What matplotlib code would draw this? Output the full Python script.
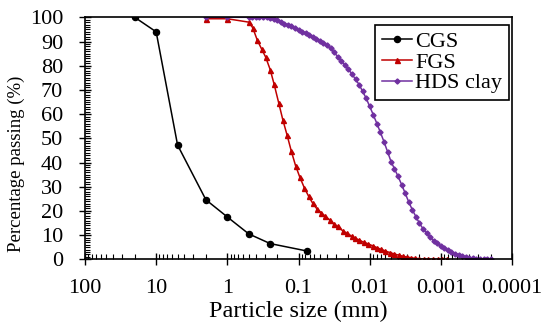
import numpy as np
import matplotlib
matplotlib.use("Agg")
import matplotlib.pyplot as plt
from matplotlib.ticker import MultipleLocator, LogLocator, NullFormatter

plt.rcParams['font.family'] = ['Liberation Serif', 'DejaVu Serif']

# coarse-grained sand (sieve)
cgs_size = [20, 10, 5, 2, 1, 0.5, 0.25, 0.075]
cgs_pass = [100, 94, 47.2, 24.6, 17.5, 10.5, 6.5, 3.4]

# fine-grained sand (laser)
fgs_size = [2, 1, 0.5, 0.44, 0.38, 0.33, 0.29, 0.25, 0.22, 0.19, 0.166, 0.145,
            0.126, 0.11, 0.096, 0.083, 0.072, 0.063, 0.055, 0.048, 0.042, 0.036,
            0.032, 0.028, 0.024, 0.021, 0.018, 0.016, 0.014, 0.012, 0.0104,
            0.0091, 0.0079, 0.0069, 0.006, 0.0052, 0.0045, 0.0039, 0.0034,
            0.003, 0.0026, 0.0023, 0.002, 0.0017, 0.0015, 0.0013, 0.0011,
            0.00095, 0.00083]
fgs_pass = [99.4, 99.4, 98, 95.7, 90.6, 86.9, 83.6, 78.4, 72.3, 64.7, 57.6, 51.4,
            44.6, 38.7, 34.0, 29.6, 26.0, 23.1, 20.8, 19.1, 17.8, 16.1,
            14.5, 13.6, 11.8, 10.8, 9.6, 8.7, 7.9, 7.0, 6.3,
            5.6, 4.8, 4.1, 3.4, 2.8, 2.2, 1.7, 1.25,
            0.95, 0.65, 0.4, 0.25, 0.12, 0.05, 0, 0,
            0, 0]

# HDS clay (laser)
hds_size = [2, 1, 0.5, 0.45, 0.4, 0.36, 0.32, 0.28, 0.25, 0.224, 0.2, 0.178,
            0.158, 0.141, 0.126, 0.112, 0.1, 0.089, 0.079, 0.071, 0.063, 0.056,
            0.05, 0.045, 0.04, 0.0355, 0.0316, 0.0282, 0.0251, 0.0224, 0.02,
            0.0178, 0.0158, 0.0141, 0.0126, 0.0112, 0.01, 0.0089, 0.0079,
            0.0071, 0.0063, 0.0056, 0.005, 0.0045, 0.004, 0.00355, 0.00316,
            0.00282, 0.00251, 0.00224, 0.002, 0.00178, 0.00158, 0.00141,
            0.00126, 0.00112, 0.001, 0.00089, 0.00079, 0.00071, 0.00063,
            0.00056, 0.0005, 0.00045, 0.0004, 0.000355, 0.000316, 0.000282,
            0.000251, 0.000224, 0.0002]
hds_pass = [100, 100, 100, 100, 100, 100, 100, 100, 99.9, 99.4, 98.7, 97.9,
            97.4, 96.8, 96.3, 95.5, 94.8, 94.1, 93.4, 92.8, 92.0, 91.2,
            90.4, 89.5, 88.4, 87.2, 85.5, 83.8, 82.1, 80.3, 78.6,
            76.6, 74.4, 72.2, 69.5, 66.5, 63.2, 59.7, 56,
            52.6, 48.6, 44.4, 40.3, 37.5, 34.3, 30.8, 27.2,
            23.6, 20.4, 17.6, 14.9, 12.6, 10.8, 9.1,
            7.7, 6.6, 5.4, 4.6, 3.7, 3.0, 2.4,
            1.9, 1.4, 1.0, 0.7, 0.4, 0.25, 0.1,
            0.05, 0, 0]

xticks = [100, 10, 1, 0.1, 0.01, 0.001, 0.0001]
xtick_labels = ['100', '10', '1', '0.1', '0.01', '0.001', '0.0001']

fig = plt.figure(figsize=(5.5, 3.34), dpi=100)
ax = fig.add_axes([0.1545, 0.2236, 0.7765, 0.7246])

ax.plot(cgs_size, cgs_pass, '-o', color='black', lw=1.1, ms=4.4, label='CGS')
ax.plot(fgs_size, fgs_pass, '-^', color='#C00000', lw=1.1, ms=3.6, label='FGS')
ax.plot(hds_size, hds_pass, '-D', color='#7030A0', lw=1.1, ms=2.6, label='HDS clay')

ax.set_xscale('log')
ax.set_xlim(100, 0.0001)
ax.set_ylim(0, 100)
ax.set_xticks(xticks)
ax.set_xticklabels(xtick_labels)
ax.xaxis.set_minor_locator(LogLocator(base=10, subs=np.arange(2, 10), numticks=20))
ax.xaxis.set_minor_formatter(NullFormatter())
ax.yaxis.set_major_locator(MultipleLocator(10))
ax.yaxis.set_minor_locator(MultipleLocator(1))

ax.tick_params(which='major', direction='inout', length=9, width=1, labelsize=16)
ax.tick_params(axis='x', which='major', pad=9.5)
ax.tick_params(axis='y', which='major', pad=11.3)
ax.tick_params(which='minor', direction='in', length=3.5, width=0.8)
ax.tick_params(top=False, right=False, which='both')
for s in ax.spines.values():
    s.set_linewidth(1.2)

ax.set_xlabel('Particle size (mm)', fontsize=17.5, labelpad=2.5)
ax.set_ylabel('Percentage passing (%)', fontsize=13.5)
ax.yaxis.set_label_coords(-0.1405, 0.396)

leg = ax.legend(loc='upper right', bbox_to_anchor=(0.993, 0.968), borderaxespad=0,
                fontsize=16, handlelength=1.35, handletextpad=0.15,
                labelspacing=0.0, borderpad=0.3, fancybox=False, framealpha=1)
leg.get_frame().set_edgecolor('black')
leg.get_frame().set_linewidth(1.2)

fig.savefig('out.png', dpi=100)
